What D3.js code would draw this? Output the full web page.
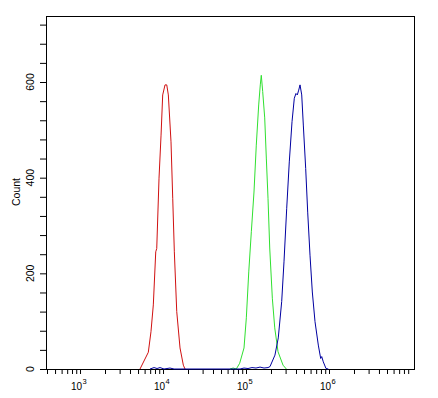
<!DOCTYPE html>
<html>
<head>
<meta charset="utf-8">
<script src="https://cdn.jsdelivr.net/npm/d3@7"></script>
<style>
  body { margin: 0; background: #fff; }
  text { font-family: "Liberation Sans", Arial, sans-serif; fill: #000; }
</style>
</head>
<body>
<script>
// histogram curves: intensity (channel value) and count
var redIntensity = [5280, 6650, 7160, 7640, 8170, 8400, 8950, 9470, 9910, 10570, 11090, 11590, 12480, 13090, 13690, 14630, 16030, 17570, 18410];
var redCount     = [0, 35, 78, 134, 245, 252, 399, 489, 573, 594, 594, 573, 475, 357, 245, 120, 44, 8, 0];

var greenIntensity = [64100, 70000, 76400, 83900, 94600, 100900, 107900, 115900, 124800, 133000, 142200, 148600, 152800, 158900, 168000, 175700, 184100, 193100, 207600, 221900, 243200, 279300, 306200];
var greenCount     = [0, 2, 0, 12, 44, 107, 203, 287, 370, 468, 552, 594, 614, 580, 525, 441, 357, 253, 148, 86, 36, 8, 0];

var blueIntensity = [6970, 7800, 8470, 9200, 10280, 12130, 13580, 84700, 94600, 105700, 118000, 131900, 147500, 164800, 184100, 194500,
                     223200, 244800, 269100, 286900, 309300, 332300, 358400, 381800, 399900, 415000, 431500, 447600, 469200, 490300,
                     523900, 553700, 590400, 629400, 678100, 743200, 794300, 817200, 853500, 920000, 982000];
var blueCount     = [0, 3, 1, 3, 0, 2, 0, 0, 2, 1, 3, 2, 4, 2, 3, 5,
                     29, 65, 141, 224, 336, 433, 517, 566, 576, 573, 583, 594, 573, 510,
                     419, 328, 238, 161, 99, 50, 22, 26, 15, 1, 0];

// axis ticks
var xMajor = [1e3, 1e4, 1e5, 1e6];
var xDecades = [2, 3, 4, 5, 6];
var yLabels = [0, 200, 400, 600];
var yMinorStep = 40;
var yMax = 738;

var width = 438,
    height = 398,
    plotL = 46, plotR = 415,
    plotT = 16, plotB = 369;

var svg = d3.select("body").append("svg")
    .attr("width", width)
    .attr("height", height);

var x = d3.scaleLog()
    .domain([389, 1.087e7])
    .range([plotL, plotR]);

var y = d3.scaleLinear()
    .domain([0, yMax])
    .range([plotB, plotT]);

// minor ticks 1..9 x 10^k that fall inside the domain
var xTicks = [];
xDecades.forEach(function(k){
    for (var m = 1; m <= 9; m++) {
        var v = m * Math.pow(10, k);
        if (v >= x.domain()[0] && v <= x.domain()[1]) xTicks.push(v);
    }
});

svg.append("g")
    .attr("transform", "translate(0," + plotB + ")")
    .call(d3.axisBottom(x).tickValues(xTicks).tickSize(5).tickSizeOuter(0).tickFormat(""))
    .call(function(g){ g.select(".domain").remove(); })
    .selectAll("line").attr("stroke", "#000");

svg.append("g")
    .attr("transform", "translate(" + plotL + ",0)")
    .call(d3.axisLeft(y).tickValues(d3.range(0, yMax, yMinorStep)).tickSize(6).tickSizeOuter(0).tickFormat(""))
    .call(function(g){ g.select(".domain").remove(); })
    .selectAll("line").attr("stroke", "#000");

// frame
svg.append("rect")
    .attr("x", plotL + 0.5)
    .attr("y", plotT + 0.5)
    .attr("width", plotR - plotL - 1)
    .attr("height", plotB - plotT)
    .attr("fill", "none")
    .attr("stroke", "#000")
    .attr("stroke-width", 1);

// x labels 10^k
var xl = svg.append("g").selectAll("g")
    .data(xMajor)
    .enter()
    .append("g")
    .attr("transform", function(d){ return "translate(" + x(d) + ",0)"; });
xl.append("text")
    .attr("x", 2)
    .attr("y", 390)
    .attr("text-anchor", "end")
    .attr("font-size", "10px")
    .attr("fill", "#000")
    .text("10");
xl.append("text")
    .attr("x", 2.5)
    .attr("y", 384)
    .attr("font-size", "7.5px")
    .attr("fill", "#000")
    .text(function(d){ return Math.round(Math.log10(d)); });

// y labels
svg.append("g").selectAll("text")
    .data(yLabels)
    .enter()
    .append("text")
    .attr("transform", function(d){ return "translate(34," + y(d) + ")rotate(-90)"; })
    .attr("text-anchor", "middle")
    .attr("font-size", "10.5px")
    .attr("fill", "#000")
    .text(function(d){ return d; });

svg.append("text")
    .attr("transform", "translate(20,192)rotate(-90)")
    .attr("text-anchor", "middle")
    .attr("font-size", "10.5px")
    .attr("fill", "#000")
    .text("Count");

// curves
var line = d3.line()
    .x(function(d){ return x(d[0]); })
    .y(function(d){ return y(d[1]); });

var curves = [
    {xs: redIntensity, ys: redCount, color: "#d01010"},
    {xs: greenIntensity, ys: greenCount, color: "#30e030"},
    {xs: blueIntensity, ys: blueCount, color: "#0000a0"}
];

svg.append("g").selectAll("path")
    .data(curves)
    .enter()
    .append("path")
    .attr("d", function(c){ return line(d3.zip(c.xs, c.ys)); })
    .attr("fill", "none")
    .attr("stroke", function(c){ return c.color; })
    .attr("stroke-width", 1);
</script>
</body>
</html>
